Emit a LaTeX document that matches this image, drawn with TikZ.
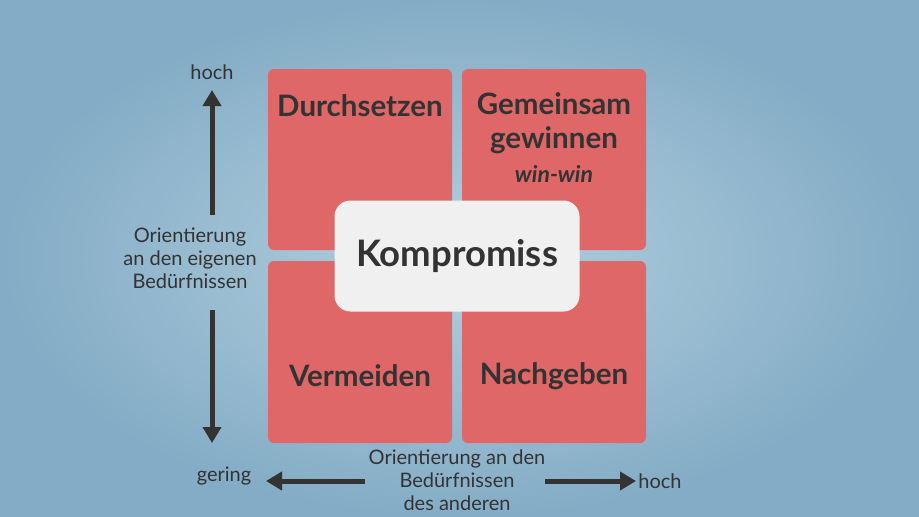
\documentclass[tikz,border=0pt]{standalone}
\usepackage{fontspec}
\setmainfont{Lato}
\definecolor{boxred}{HTML}{E06767}
\definecolor{ink}{HTML}{333333}
\definecolor{bgin}{HTML}{B3D0DE}
\definecolor{bgout}{HTML}{84ACC6}
\usetikzlibrary{arrows.meta}
\begin{document}
\begin{tikzpicture}[x=1pt,y=-1pt,
  quad/.style={fill=boxred,rounded corners=6pt},
  big/.style={font=\fontsize{29.5}{33}\selectfont\bfseries,text=ink,align=center},
  lab/.style={font=\fontsize{20}{23}\selectfont,text=ink,align=center},
  axis/.style={draw=ink,line width=5pt,-{Triangle[length=16pt,width=18pt]}}]
\useasboundingbox (0,0) rectangle (919,517);
\shade[inner color=bgin,outer color=bgout] (0,0) rectangle (919,517);
\fill[quad] (268,69) rectangle (452,250);
\fill[quad] (462,69) rectangle (646,250);
\fill[quad] (268,261) rectangle (452,443);
\fill[quad] (462,261) rectangle (646,443);
\node[big] (d) at (360,106) {Durchsetzen};
\node[big,font=\fontsize{29.5}{34}\selectfont\bfseries] (g) at (554,138) {Gemeinsam\\gewinnen\\\fontsize{23}{26}\selectfont\itshape win-win};
\node[big] (v) at (360,376) {Vermeiden};
\node[big] (n) at (554,376) {Nachgeben};
\node[fill=gray!12,rounded corners=16pt,minimum width=245pt,minimum height=111pt] (k) at (457,256) {};
\node[big,font=\fontsize{36.5}{40}\selectfont\bfseries] at (k) {Kompromiss};
\node[lab] (h1) at (212,72) {hoch};
\node[lab] (o1) at (190,258) {Orientierung\\an den eigenen\\Bedürfnissen};
\node[lab] (ge) at (224,476) {gering};
\node[lab] (h2) at (660,481) {hoch};
\node[lab] (o2) at (457,480) {Orientierung an den\\Bedürfnissen\\des anderen};
\coordinate (a1) at (212,215); \coordinate (a2) at (212,90);
\coordinate (a3) at (212,310); \coordinate (a4) at (212,443);
\coordinate (a5) at (365,481); \coordinate (a6) at (266,481);
\coordinate (a7) at (545,481); \coordinate (a8) at (636,481);
\draw[axis] (a1) -- (a2);
\draw[axis] (a3) -- (a4);
\draw[axis] (a5) -- (a6);
\draw[axis] (a7) -- (a8);
\end{tikzpicture}
\end{document}
